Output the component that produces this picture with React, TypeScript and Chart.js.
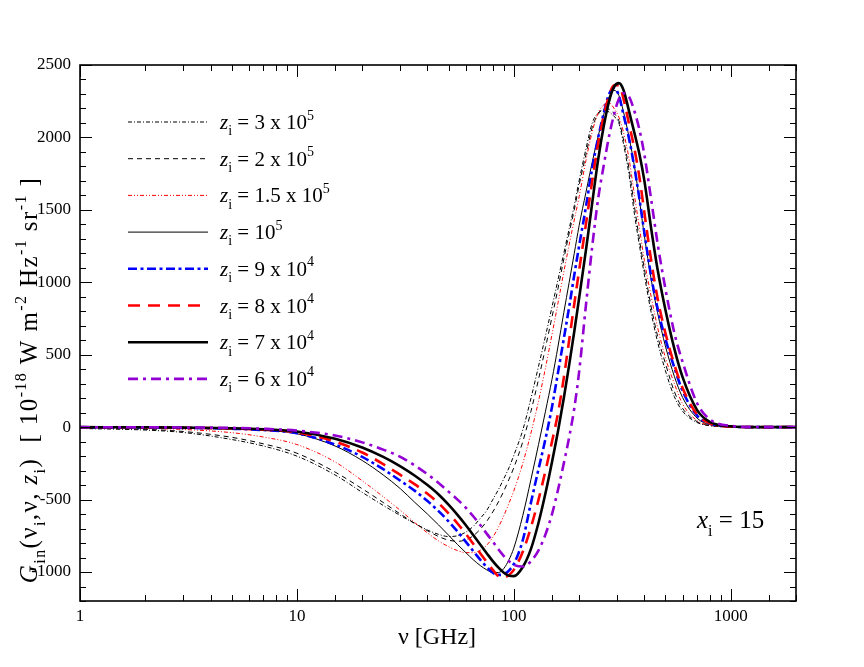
import React, { useEffect, useRef } from 'react';
import { Chart, registerables } from 'chart.js';

Chart.register(...registerables);

// frequency grid [GHz]
const nu = [1, 2, 3, 5, 7, 10, 15, 20, 25, 30, 35, 40, 45, 50, 55, 60, 65, 70, 75, 80, 85, 90, 95, 100, 110, 120, 130, 140, 150, 160, 170, 180, 190, 200, 215, 230, 245, 260, 275, 290, 305, 320, 340, 360, 380, 400, 430, 460, 500, 550, 600, 700, 800, 1000, 1300, 2000];

const zi3e5 = [-9, -20, -37, -85, -130, -200, -330, -450, -540, -610, -665, -710, -740, -755, -750, -725, -685, -630, -575, -500, -430, -355, -280, -195, -20, 200, 420, 630, 830, 1020, 1200, 1370, 1530, 1700, 1920, 2100, 2170, 2190, 2175, 2145, 2100, 1960, 1740, 1470, 1250, 1050, 790, 590, 390, 210, 110, 32, 10, 2, 0, 0];
const zi2e5 = [-6, -15, -30, -70, -115, -180, -310, -425, -520, -600, -665, -715, -755, -780, -788, -778, -750, -705, -650, -585, -515, -440, -360, -280, -100, 110, 330, 550, 760, 960, 1160, 1340, 1500, 1670, 1880, 2070, 2160, 2195, 2195, 2165, 2115, 1990, 1780, 1520, 1290, 1090, 830, 630, 440, 245, 130, 38, 12, 2, 0, 0];
const zi15e5 = [-3, -8, -16, -38, -68, -120, -240, -370, -480, -575, -660, -730, -785, -825, -852, -866, -866, -850, -815, -760, -690, -610, -525, -440, -250, -40, 180, 410, 640, 860, 1070, 1260, 1430, 1590, 1840, 2040, 2170, 2225, 2238, 2200, 2140, 2040, 1850, 1600, 1370, 1150, 900, 690, 480, 300, 160, 45, 14, 2, 0, 0];
const zi1e5 = [-1, -2, -5, -12, -22, -45, -130, -230, -330, -425, -520, -600, -675, -745, -810, -865, -915, -955, -985, -1003, -1003, -975, -915, -835, -610, -360, -120, 110, 330, 560, 790, 1000, 1200, 1390, 1620, 1830, 2010, 2160, 2280, 2325, 2290, 2180, 2000, 1800, 1560, 1320, 1020, 790, 560, 350, 205, 62, 18, 3, 0, 0];
const zi9e4 = [-1, -2, -5, -11, -20, -42, -120, -205, -290, -370, -440, -510, -580, -650, -720, -790, -855, -915, -965, -1005, -1020, -1015, -990, -945, -780, -520, -290, -80, 140, 380, 610, 830, 1050, 1250, 1520, 1790, 2000, 2170, 2300, 2340, 2290, 2160, 1990, 1790, 1570, 1340, 1040, 820, 610, 410, 250, 80, 25, 4, 0, 0];
const zi8e4 = [-1, -1, -4, -9, -17, -36, -100, -175, -255, -330, -395, -460, -525, -595, -665, -735, -805, -870, -930, -985, -1030, -1038, -1020, -985, -860, -690, -500, -300, -100, 100, 340, 600, 850, 1080, 1400, 1700, 1960, 2150, 2290, 2360, 2360, 2270, 2090, 1920, 1720, 1480, 1150, 890, 650, 430, 270, 88, 27, 4, 0, 0];
const zi7e4 = [0, -1, -3, -7, -14, -30, -80, -140, -205, -270, -335, -400, -465, -535, -605, -675, -745, -810, -870, -925, -970, -1005, -1025, -1028, -965, -840, -660, -455, -240, -25, 200, 430, 660, 890, 1220, 1550, 1850, 2080, 2250, 2350, 2375, 2330, 2180, 2030, 1880, 1700, 1370, 1090, 810, 540, 345, 118, 37, 6, 0, 0];
const zi6e4 = [0, -1, -2, -5, -11, -24, -58, -105, -155, -205, -265, -325, -385, -445, -500, -555, -615, -675, -735, -790, -845, -890, -925, -950, -962, -925, -850, -740, -600, -430, -250, -70, 130, 380, 840, 1250, 1580, 1810, 2010, 2160, 2265, 2305, 2280, 2180, 2050, 1880, 1570, 1270, 955, 650, 450, 165, 55, 9, 1, 0];

const seriesValues = [zi3e5, zi2e5, zi15e5, zi1e5, zi9e4, zi8e4, zi7e4, zi6e4];
const legendMantissa = ['3', '2', '1.5', '', '9', '8', '7', '6'];
const legendExponent = ['5', '5', '5', '5', '4', '4', '4', '4'];
const majorXTicks = [1, 10, 100, 1000];

const seriesColors = ['#000000', '#000000', '#ff0000', '#000000', '#0000ff', '#ff0000', '#000000', '#9400d3'];
const seriesWidths = [1, 1, 1, 1, 2.6, 2.6, 2.6, 2.6];
const seriesDashes: number[][] = [
  [4, 2, 1, 2],
  [5, 4],
  [4, 2, 1, 2, 1, 2],
  [],
  [9, 3.5, 3, 3.5],
  [12, 8],
  [],
  [10, 5, 3, 5],
];

const SERIF = '"Liberation Serif", "Times New Roman", serif';

type Part = { t: string; it?: boolean; sub?: boolean; sup?: boolean };

function partFont(p: Part, size: number) {
  const fs = p.sub || p.sup ? Math.round(size * 0.65) : size;
  return `${p.it ? 'italic ' : ''}${fs}px ${SERIF}`;
}

function richWidth(ctx: CanvasRenderingContext2D, parts: Part[], size: number, track = 0) {
  let w = 0;
  for (const p of parts) {
    ctx.font = partFont(p, size);
    if (track) {
      for (const ch of p.t) w += ctx.measureText(ch).width + track;
    } else {
      w += ctx.measureText(p.t).width;
    }
  }
  return w;
}

function drawRich(ctx: CanvasRenderingContext2D, x: number, y: number, parts: Part[], size: number, track = 0) {
  let cx = x;
  for (const p of parts) {
    ctx.font = partFont(p, size);
    const dy = p.sub ? size * 0.3 : p.sup ? -size * 0.45 : 0;
    if (track) {
      for (const ch of p.t) {
        ctx.fillText(ch, cx, y + dy);
        cx += ctx.measureText(ch).width + track;
      }
    } else {
      ctx.fillText(p.t, cx, y + dy);
      cx += ctx.measureText(p.t).width;
    }
  }
  return cx - x;
}

const isMajorX = (v: number) => majorXTicks.some((m) => Math.abs(v - m) < 1e-6 * m);

const framePlugin = {
  id: 'frameAndText',
  afterDraw(chart: any) {
    const { ctx, chartArea } = chart;
    const { left, right, top, bottom } = chartArea;
    const xs = chart.scales.x;
    const ys = chart.scales.y;
    ctx.save();
    ctx.strokeStyle = '#000';
    ctx.lineWidth = 1;
    ctx.setLineDash([]);
    xs.ticks.forEach((t: any) => {
      const px = Math.round(xs.getPixelForValue(t.value)) + 0.5;
      const len = isMajorX(t.value) ? 12 : 6;
      ctx.beginPath();
      ctx.moveTo(px, bottom);
      ctx.lineTo(px, bottom - len);
      ctx.moveTo(px, top);
      ctx.lineTo(px, top + len);
      ctx.stroke();
    });
    ys.ticks.forEach((t: any) => {
      const py = Math.round(ys.getPixelForValue(t.value)) + 0.5;
      const len = t.value % 500 === 0 ? 12 : 6;
      ctx.beginPath();
      ctx.moveTo(left, py);
      ctx.lineTo(left + len, py);
      ctx.moveTo(right, py);
      ctx.lineTo(right - len, py);
      ctx.stroke();
    });
    ctx.lineWidth = 1.6;
    ctx.strokeRect(left, top, right - left, bottom - top);

    // legend
    ctx.fillStyle = '#000';
    ctx.textBaseline = 'alphabetic';
    ctx.textAlign = 'left';
    chart.data.datasets.forEach((ds: any, i: number) => {
      const rowY = 122 + i * 36.7;
      ctx.strokeStyle = ds.borderColor;
      ctx.lineWidth = ds.borderWidth;
      ctx.setLineDash(ds.borderDash || []);
      ctx.beginPath();
      ctx.moveTo(128, rowY);
      ctx.lineTo(208, rowY);
      ctx.stroke();
      ctx.setLineDash([]);
      const mant = legendMantissa[i];
      const parts: Part[] = [
        { t: 'z', it: true },
        { t: 'i', sub: true },
        { t: mant ? ` = ${mant} x 10` : ' = 10' },
        { t: legendExponent[i], sup: true },
      ];
      drawRich(ctx, 220, rowY + 7, parts, 21);
    });

    // x_i annotation
    drawRich(ctx, 697, 528, [{ t: 'x', it: true }, { t: 'i', sub: true }, { t: ' = 15' }], 25);

    // x axis title
    ctx.font = `24px ${SERIF}`;
    ctx.textAlign = 'center';
    ctx.fillText('ν [GHz]', 437, 644);

    // y axis title
    const yParts: Part[] = [
      { t: 'G', it: true },
      { t: 'in', sub: true },
      { t: '(ν' },
      { t: 'i', sub: true },
      { t: ',ν, ' },
      { t: 'z', it: true },
      { t: 'i', sub: true },
      { t: ')  [ 10' },
      { t: '-18', sup: true },
      { t: ' W m' },
      { t: '-2', sup: true },
      { t: ' Hz' },
      { t: '-1', sup: true },
      { t: ' sr' },
      { t: '-1', sup: true },
      { t: ' ]' },
    ];
    ctx.textAlign = 'left';
    const ysize = 25;
    const track = 1.4;
    const w = richWidth(ctx, yParts, ysize, track);
    ctx.translate(37, 380);
    ctx.rotate(-Math.PI / 2);
    drawRich(ctx, -w / 2, 0, yParts, ysize, track);
    ctx.restore();
  },
};

export default function App() {
  const ref = useRef<HTMLCanvasElement>(null);
  useEffect(() => {
    const canvas = ref.current;
    if (!canvas) return;
    const datasets = seriesValues.map((vals, i) => ({
      label: `z${i}`,
      data: nu.map((x, j) => ({ x, y: vals[j] })),
      borderColor: seriesColors[i],
      borderWidth: seriesWidths[i],
      borderDash: seriesDashes[i],
      pointRadius: 0,
      fill: false,
      cubicInterpolationMode: 'monotone' as const,
      order: 7 - i,
    }));
    const tickFont = { family: SERIF, size: 17 };
    const chart = new Chart(canvas, {
      type: 'line',
      data: { datasets },
      options: {
        animation: false,
        responsive: false,
        devicePixelRatio: 1,
        layout: { padding: { left: 0, right: 68, top: 65, bottom: 0 } },
        plugins: { legend: { display: false }, tooltip: { enabled: false }, title: { display: false } },
        scales: {
          x: {
            type: 'logarithmic',
            min: 1,
            max: 2000,
            grid: { display: false, drawTicks: false },
            border: { display: false },
            ticks: {
              autoSkip: false,
              maxRotation: 0,
              color: '#000',
              font: tickFont,
              padding: 5,
              callback: (v: any) => (isMajorX(Number(v)) ? String(Math.round(Number(v))) : ''),
            },
            afterFit: (s: any) => {
              s.height = 66;
            },
          },
          y: {
            type: 'linear',
            min: -1200,
            max: 2500,
            grid: { display: false, drawTicks: false },
            border: { display: false },
            ticks: {
              autoSkip: false,
              stepSize: 100,
              color: '#000',
              font: tickFont,
              padding: 9,
              callback: (v: any) => (Number(v) % 500 === 0 ? String(v) : ''),
            },
            afterFit: (s: any) => {
              s.width = 80;
            },
          },
        },
      },
      plugins: [framePlugin],
    });
    return () => chart.destroy();
  }, []);
  return (
    <div style={{ position: 'fixed', left: 0, top: 0, width: 864, height: 667, background: '#fff' }}>
      <canvas ref={ref} width={864} height={667} style={{ width: 864, height: 667, display: 'block' }} />
    </div>
  );
}
